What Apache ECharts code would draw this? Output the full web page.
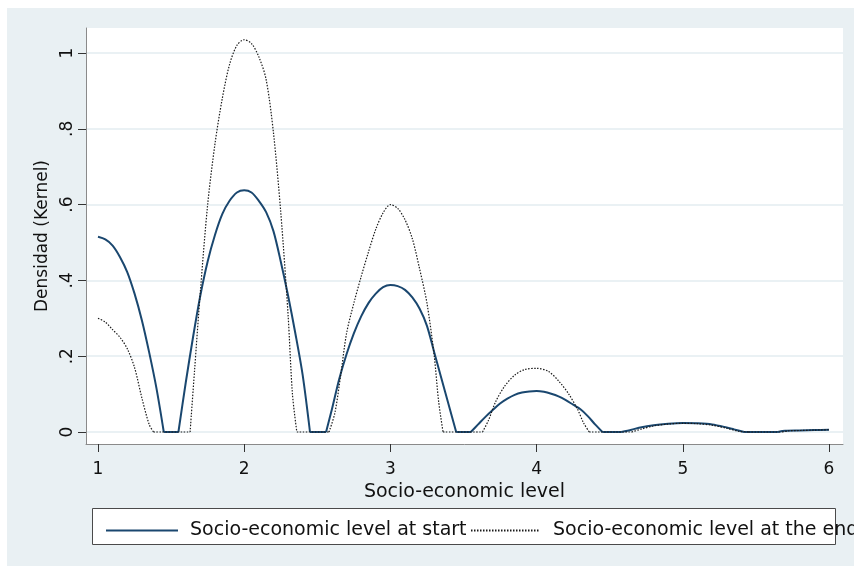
<!DOCTYPE html>
<html>
<head>
<meta charset="utf-8">
<title>Densidad (Kernel)</title>
<script src="https://cdn.jsdelivr.net/npm/echarts@6/dist/echarts.min.js"></script>
<style>
  html, body { margin: 0; padding: 0; background: #fff; }
  #chart { width: 854px; height: 566px; }
</style>
</head>
<body>
<div id="chart"></div>
<script>
/* tick values */
var xTicks = [1, 2, 3, 4, 5, 6];
var yTicks = [0, 0.2, 0.4, 0.6, 0.8, 1];

/* density at start (solid blue) */
var startX = [1.00, 1.05, 1.10, 1.15, 1.20, 1.25, 1.30, 1.35, 1.40, 1.45, 1.55, 1.60, 1.65, 1.70, 1.75, 1.80, 1.85, 1.90, 1.95, 2.00,
  2.05, 2.10, 2.15, 2.20, 2.25, 2.30, 2.35, 2.40, 2.45, 2.56, 2.60, 2.65, 2.70, 2.75, 2.80, 2.85, 2.90, 2.95, 3.00,
  3.05, 3.10, 3.15, 3.20, 3.25, 3.30, 3.35, 3.40, 3.45, 3.55, 3.60, 3.65, 3.70, 3.75, 3.80, 3.85, 3.90, 3.95, 4.00,
  4.05, 4.10, 4.15, 4.20, 4.25, 4.30, 4.35, 4.40, 4.45, 4.58, 4.65, 4.70, 4.80, 4.90, 5.00, 5.10, 5.20, 5.30, 5.35, 5.42,
  5.65, 5.70, 5.80, 5.90, 6.00];
var startY = [0.515, 0.508, 0.492, 0.462, 0.422, 0.365, 0.295, 0.21, 0.115, 0, 0, 0.13, 0.25, 0.36, 0.45, 0.52, 0.575, 0.61, 0.632, 0.638,
  0.632, 0.61, 0.58, 0.53, 0.45, 0.36, 0.26, 0.15, 0, 0, 0.06, 0.14, 0.205, 0.26, 0.305, 0.34, 0.365, 0.382, 0.388,
  0.385, 0.375, 0.355, 0.325, 0.28, 0.21, 0.14, 0.07, 0, 0, 0.02, 0.04, 0.058, 0.075, 0.088, 0.098, 0.104, 0.107, 0.108,
  0.106, 0.101, 0.094, 0.084, 0.072, 0.06, 0.042, 0.02, 0, 0, 0.006, 0.011, 0.018, 0.022, 0.024, 0.023, 0.02, 0.012, 0.007, 0,
  0, 0.003, 0.004, 0.005, 0.006];

/* density at the end (black dotted) */
var endX = [1.00, 1.05, 1.10, 1.15, 1.20, 1.25, 1.30, 1.35, 1.38, 1.63, 1.66, 1.70, 1.75, 1.80, 1.85, 1.90, 1.95, 2.00,
  2.05, 2.10, 2.15, 2.20, 2.25, 2.30, 2.33, 2.36, 2.58, 2.62, 2.66, 2.70, 2.75, 2.80, 2.85, 2.90, 2.95, 3.00,
  3.05, 3.10, 3.15, 3.20, 3.25, 3.30, 3.33, 3.36, 3.63, 3.67, 3.72, 3.78, 3.85, 3.92, 4.00,
  4.08, 4.15, 4.22, 4.28, 4.32, 4.36, 4.65, 4.72, 4.80, 4.90, 5.00, 5.10, 5.20, 5.30, 5.38, 5.45,
  5.68, 5.72, 5.80, 5.90, 6.00];
var endY = [0.30, 0.29, 0.27, 0.25, 0.22, 0.17, 0.09, 0.02, 0, 0, 0.16, 0.37, 0.60, 0.76, 0.88, 0.97, 1.02, 1.035,
  1.025, 0.99, 0.93, 0.79, 0.58, 0.31, 0.10, 0, 0, 0.05, 0.15, 0.26, 0.34, 0.41, 0.475, 0.535, 0.578, 0.60,
  0.59, 0.56, 0.51, 0.43, 0.34, 0.20, 0.08, 0, 0, 0.03, 0.08, 0.12, 0.15, 0.165, 0.168,
  0.16, 0.135, 0.10, 0.06, 0.025, 0, 0, 0.008, 0.016, 0.021, 0.023, 0.022, 0.018, 0.01, 0.002, 0,
  0, 0.003, 0.004, 0.005, 0.006];

var startName = 'Socio-economic level at start';
var endName = 'Socio-economic level at the end';

/* build [x, y] pairs; the curve is cut where it touches zero so each hump
   is smoothed on its own and keeps the sharp corner at the floor */
function pairs(xs, ys) {
  var out = [];
  var n = xs.length;
  for (var i = 0; i < n; i++) {
    out.push([xs[i], ys[i]]);
    if (ys[i] === 0 && i > 0 && i < n - 1 && ((ys[i - 1] === 0) !== (ys[i + 1] === 0))) {
      out.push([xs[i], null]);
      out.push([xs[i], 0]);
    }
  }
  return out;
}

var font = 'DejaVu Sans';
var chart = echarts.init(document.getElementById('chart'));

chart.setOption({
  backgroundColor: '#fff',
  animation: false,
  graphic: [
    // light bluish background of the whole graph
    { type: 'rect', z: -10, silent: true, shape: { x: 7, y: 8, width: 847, height: 558 }, style: { fill: '#e9f0f3' } },
    // legend frame
    { type: 'rect', z: -1, silent: true, shape: { x: 92.5, y: 508.5, width: 743, height: 36 }, style: { fill: '#fff', stroke: '#4a4a4a', lineWidth: 1 } }
  ],
  grid: {
    left: 86, right: 11, top: 28, bottom: 122,
    show: true, backgroundColor: '#fff', borderWidth: 0
  },
  legend: [
    {
      data: [startName], left: 100, top: 516, itemWidth: 72, itemHeight: 14,
      itemStyle: { opacity: 0 },
      textStyle: { fontFamily: font, fontSize: 19, color: '#111', padding: [0, 0, 0, 7] }
    },
    {
      data: [endName], left: 465, top: 516, itemWidth: 68, itemHeight: 14,
      itemStyle: { opacity: 0 },
      textStyle: { fontFamily: font, fontSize: 19, color: '#111', padding: [0, 0, 0, 9] }
    }
  ],
  xAxis: {
    type: 'value',
    min: 1 - 12 / 146.2,
    max: 6 + 14 / 146.2,
    name: 'Socio-economic level',
    nameLocation: 'middle',
    nameGap: 36,
    nameTextStyle: { fontFamily: font, fontSize: 19, color: '#111' },
    axisLine: { show: true, onZero: false, lineStyle: { color: '#8a8a8a', width: 1 } },
    axisTick: { show: true, length: 8, customValues: xTicks, lineStyle: { color: '#333' } },
    axisLabel: { customValues: xTicks, margin: 17, fontFamily: font, fontSize: 17, color: '#111' },
    splitLine: { show: false }
  },
  yAxis: {
    type: 'value',
    min: -12 / 379,
    max: 1 + 25 / 379,
    name: 'Densidad (Kernel)',
    nameLocation: 'middle',
    nameGap: 27,
    nameTextStyle: { fontFamily: font, fontSize: 17, color: '#111' },
    axisLine: { show: true, onZero: false, lineStyle: { color: '#8a8a8a', width: 1 } },
    axisTick: { show: true, length: 8, customValues: yTicks, lineStyle: { color: '#333' } },
    axisLabel: {
      customValues: yTicks, rotate: 90, margin: 10, fontFamily: font, fontSize: 17, color: '#111',
      formatter: function (v) {
        if (v === 0) return '0';
        if (v >= 1) return '1';
        return String(+v.toFixed(1)).replace(/^0/, '');
      }
    },
    splitLine: { show: true, lineStyle: { color: '#e3ecf1', width: 1.5 } }
  },
  series: [
    {
      name: startName,
      type: 'line',
      symbol: 'none',
      smooth: 0.3,
      connectNulls: false,
      data: pairs(startX, startY),
      lineStyle: { color: '#1a476f', width: 2 },
      itemStyle: { color: '#1a476f' }
    },
    {
      name: endName,
      type: 'line',
      symbol: 'none',
      smooth: 0.3,
      connectNulls: false,
      data: pairs(endX, endY),
      lineStyle: { color: '#1a1a1a', width: 1.2, type: [1.5, 1.5] },
      itemStyle: { color: '#1a1a1a' }
    }
  ]
});
</script>
</body>
</html>
